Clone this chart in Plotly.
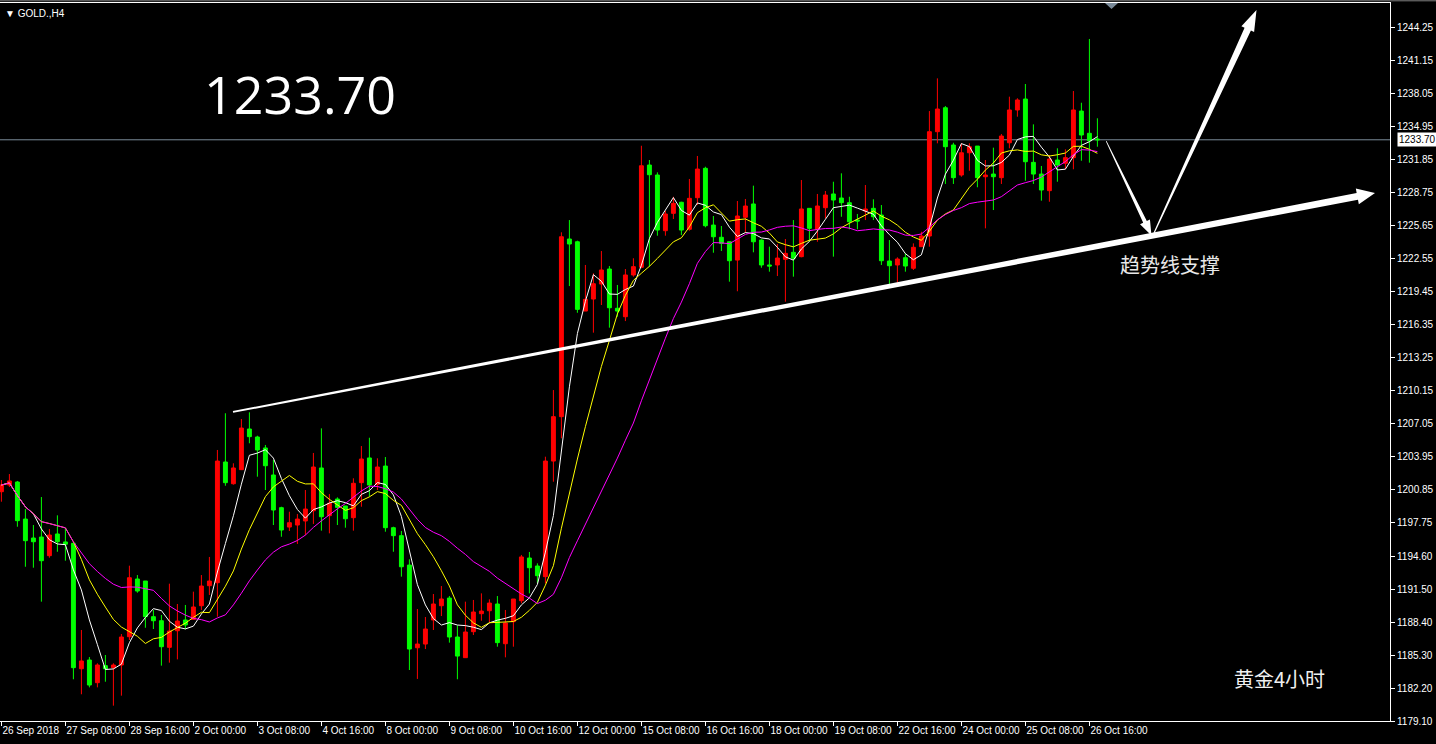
import plotly.graph_objects as go
import pandas as pd

# ---------------- data (GOLD H4, bar index 0 = 26 Sep 2018 00:00) ----------------
bar_index = list(range(138))
open_ = [1200.64, 1201.27, 1201.55, 1198.07, 1196.29, 1196.38, 1194.63, 1196.67, 1195.92, 1195.79,
         1184.01, 1184.83, 1182.70, 1184.30, 1184.11, 1184.36, 1187.02, 1192.44, 1192.25, 1188.90,
         1188.52, 1186.02, 1187.58, 1188.59, 1188.65, 1189.93, 1191.81, 1192.09, 1203.43, 1201.39,
         1202.71, 1206.53, 1205.78, 1204.75, 1202.21, 1199.14, 1197.32, 1197.51, 1197.89, 1198.85,
         1202.87, 1198.39, 1199.95, 1199.30, 1198.20, 1201.49, 1203.81, 1201.33, 1203.05, 1197.26,
         1196.51, 1193.75, 1185.98, 1186.33, 1188.59, 1189.93, 1190.65, 1186.99, 1185.05, 1187.49,
         1189.18, 1189.46, 1190.09, 1186.36, 1188.43, 1190.40, 1194.41, 1193.66, 1192.66, 1203.52,
         1207.69, 1224.38, 1224.12, 1217.61, 1218.74, 1220.15, 1221.56, 1217.87, 1217.08, 1221.00,
         1221.72, 1231.33, 1230.39, 1225.16, 1226.79, 1227.83, 1225.29, 1228.26, 1231.02, 1225.69,
         1224.54, 1224.12, 1222.40, 1226.42, 1227.67, 1224.28, 1221.94, 1221.94, 1222.47, 1223.13,
         1222.72, 1227.26, 1225.29, 1227.32, 1228.61, 1228.23, 1227.79, 1226.16, 1227.01, 1227.26,
         1226.63, 1222.31, 1221.94, 1222.62, 1221.63, 1223.66, 1224.66, 1234.46, 1236.71, 1233.21,
         1230.39, 1232.48, 1233.11, 1230.23, 1230.48, 1230.14, 1233.42, 1236.50, 1237.53, 1231.58,
         1230.48, 1228.92, 1231.80, 1231.49, 1232.02, 1236.40, 1234.31, 1233.77]
high = [1201.74, 1202.30, 1201.65, 1199.01, 1197.51, 1200.14, 1197.14, 1198.42, 1197.23, 1195.85,
        1187.65, 1185.11, 1184.52, 1185.30, 1184.52, 1187.27, 1193.69, 1192.81, 1192.25, 1189.53,
        1189.06, 1192.00, 1190.09, 1190.00, 1191.25, 1192.81, 1194.51, 1204.56, 1208.01, 1203.31,
        1207.47, 1208.10, 1205.90, 1205.03, 1203.62, 1199.23, 1198.76, 1198.54, 1200.80, 1204.28,
        1206.59, 1200.42, 1200.11, 1199.30, 1201.90, 1204.93, 1205.71, 1203.78, 1203.90, 1197.35,
        1196.95, 1194.29, 1189.62, 1188.87, 1191.03, 1191.78, 1190.84, 1188.09, 1190.31, 1190.47,
        1191.09, 1190.53, 1190.84, 1189.53, 1190.56, 1194.70, 1194.98, 1193.91, 1203.93, 1210.19,
        1225.01, 1226.16, 1224.22, 1221.94, 1221.16, 1223.25, 1221.84, 1220.06, 1221.56, 1222.57,
        1233.14, 1231.80, 1230.64, 1227.01, 1228.35, 1227.88, 1230.02, 1232.18, 1231.17, 1226.54,
        1225.60, 1224.12, 1227.95, 1228.14, 1229.39, 1224.35, 1223.66, 1223.91, 1224.38, 1226.16,
        1229.92, 1227.26, 1228.61, 1228.89, 1229.76, 1230.55, 1228.35, 1226.73, 1229.45, 1228.11,
        1227.57, 1224.28, 1222.66, 1223.03, 1223.97, 1225.06, 1236.40, 1239.47, 1236.87, 1233.42,
        1233.37, 1233.37, 1233.11, 1231.80, 1232.96, 1234.24, 1237.75, 1237.60, 1238.94, 1235.15,
        1231.24, 1232.27, 1232.90, 1232.80, 1238.28, 1237.18, 1243.17, 1235.72]
low = [1199.70, 1201.08, 1197.35, 1193.59, 1193.50, 1190.31, 1194.44, 1195.00, 1194.16, 1183.02,
       1181.61, 1182.26, 1182.26, 1182.79, 1180.54, 1181.48, 1186.71, 1191.15, 1187.86, 1187.74,
       1184.30, 1184.58, 1184.89, 1187.71, 1188.59, 1189.53, 1190.94, 1188.90, 1201.20, 1201.30,
       1202.68, 1205.19, 1202.05, 1200.80, 1197.51, 1196.41, 1196.95, 1195.73, 1196.57, 1197.61,
       1196.98, 1196.73, 1197.51, 1197.26, 1196.98, 1199.23, 1200.17, 1200.80, 1196.88, 1195.00,
       1192.66, 1183.89, 1183.05, 1185.86, 1187.65, 1188.96, 1186.46, 1183.02, 1185.05, 1187.18,
       1188.52, 1188.40, 1186.08, 1185.08, 1186.08, 1190.16, 1191.09, 1192.03, 1192.03, 1201.58,
       1205.66, 1219.96, 1217.45, 1217.61, 1215.58, 1218.18, 1216.05, 1217.08, 1216.67, 1220.84,
       1221.63, 1221.78, 1224.69, 1224.69, 1226.26, 1224.75, 1225.16, 1227.57, 1225.48, 1223.09,
       1223.25, 1220.37, 1219.47, 1224.97, 1223.13, 1221.68, 1221.31, 1220.90, 1218.49, 1220.84,
       1222.66, 1224.12, 1224.12, 1226.32, 1222.72, 1226.47, 1225.29, 1225.29, 1226.16, 1226.16,
       1221.94, 1220.15, 1220.27, 1221.31, 1221.47, 1223.66, 1223.66, 1233.37, 1229.55, 1229.55,
       1230.23, 1230.79, 1229.24, 1225.38, 1227.10, 1229.55, 1232.90, 1235.87, 1229.85, 1229.55,
       1227.98, 1227.88, 1229.76, 1230.93, 1230.93, 1231.73, 1231.55, 1233.05]
close = [1201.27, 1201.65, 1197.92, 1196.04, 1195.94, 1194.16, 1196.57, 1195.94, 1195.70, 1184.11,
         1184.74, 1182.48, 1184.36, 1184.01, 1184.36, 1186.99, 1192.56, 1191.31, 1188.90, 1188.52,
         1186.08, 1187.55, 1188.49, 1188.12, 1189.81, 1191.78, 1192.25, 1203.52, 1201.49, 1202.87,
         1206.62, 1205.81, 1204.56, 1203.08, 1198.92, 1197.04, 1197.73, 1198.07, 1199.01, 1202.96,
         1198.29, 1199.55, 1199.17, 1198.10, 1201.43, 1203.71, 1201.27, 1202.96, 1197.26, 1196.51,
         1193.59, 1185.86, 1186.33, 1187.74, 1190.09, 1190.56, 1186.99, 1185.20, 1187.46, 1189.34,
         1189.43, 1190.18, 1186.46, 1188.31, 1190.56, 1194.51, 1193.50, 1192.75, 1203.52, 1207.69,
         1224.59, 1223.91, 1217.77, 1218.71, 1220.18, 1221.47, 1217.92, 1217.61, 1221.00, 1221.78,
         1231.26, 1230.42, 1225.22, 1226.73, 1227.73, 1225.22, 1228.20, 1230.95, 1225.63, 1224.59,
         1223.97, 1222.34, 1226.54, 1227.48, 1224.12, 1221.94, 1221.84, 1222.59, 1223.03, 1222.57,
         1227.20, 1225.38, 1227.48, 1228.51, 1228.04, 1227.79, 1226.00, 1226.07, 1227.20, 1226.47,
         1222.34, 1221.87, 1222.50, 1221.84, 1223.60, 1224.66, 1234.46, 1236.59, 1233.05, 1230.14,
         1232.48, 1233.05, 1230.14, 1230.39, 1230.23, 1234.05, 1236.50, 1237.44, 1231.64, 1230.48,
         1228.98, 1231.89, 1231.33, 1232.02, 1236.50, 1234.15, 1233.61, 1233.70]

x_tick_index = [0, 8, 16, 24, 32, 40, 48, 56, 64, 72, 80, 88, 96, 104, 112, 120, 128, 136]
x_tick_labels = ["26 Sep 2018", "27 Sep 08:00", "28 Sep 16:00", "2 Oct 00:00", "3 Oct 08:00",
                 "4 Oct 16:00", "8 Oct 00:00", "9 Oct 08:00", "10 Oct 16:00", "12 Oct 00:00",
                 "15 Oct 08:00", "16 Oct 16:00", "18 Oct 00:00", "19 Oct 08:00", "22 Oct 16:00",
                 "24 Oct 00:00", "25 Oct 08:00", "26 Oct 16:00"]
y_tick_values = [1244.25, 1241.15, 1238.05, 1234.95, 1231.85, 1228.75, 1225.65, 1222.55, 1219.45,
                 1216.35, 1213.25, 1210.15, 1207.05, 1203.95, 1200.85, 1197.75, 1194.60, 1191.50,
                 1188.40, 1185.30, 1182.20, 1179.10]
current_price = 1233.70
ma_periods = [5, 10, 20]
ma_colors = ["#FFFFFF", "#FFFF00", "#FF00FF"]

# ---------------- geometry ----------------
FIG_W, FIG_H = 1436, 744
M_L, M_R, M_T, M_B = 0, 46, 3, 23
PW, PH = FIG_W - M_L - M_R, FIG_H - M_T - M_B
X0, X1 = -0.175, 173.575
Y0, Y1 = 1179.10, 1246.55


def to_px(x, y):
    return ((x - X0) / (X1 - X0) * PW, (Y1 - y) / (Y1 - Y0) * PH)


def to_data(px, py):
    return (X0 + px / PW * (X1 - X0), Y1 - py / PH * (Y1 - Y0))


def arrow_path(start, tip, w0, w1, head_len, head_w):
    sx, sy = to_px(*start)
    tx, ty = to_px(*tip)
    dx, dy = tx - sx, ty - sy
    L = (dx * dx + dy * dy) ** 0.5
    ux, uy = dx / L, dy / L
    nx, ny = -uy, ux
    bx, by = tx - ux * head_len, ty - uy * head_len
    pts = [(sx + nx * w0 / 2, sy + ny * w0 / 2),
           (bx + nx * w1 / 2, by + ny * w1 / 2),
           (bx + nx * head_w / 2, by + ny * head_w / 2),
           (tx, ty),
           (bx - nx * head_w / 2, by - ny * head_w / 2),
           (bx - nx * w1 / 2, by - ny * w1 / 2),
           (sx - nx * w0 / 2, sy - ny * w0 / 2)]
    d = [to_data(px, py) for px, py in pts]
    return "M " + " L ".join(f"{x:.4f},{y:.4f}" for x, y in d) + " Z"


fig = go.Figure()
fig.add_trace(go.Candlestick(
    x=bar_index, open=open_, high=high, low=low, close=close,
    increasing=dict(line=dict(color="#FF0000", width=1), fillcolor="#FF0000"),
    decreasing=dict(line=dict(color="#00FF00", width=1), fillcolor="#00FF00"),
    whiskerwidth=0, hoverinfo="skip", showlegend=False))

cs = pd.Series(close)
for p, c in zip(ma_periods, ma_colors):
    ma = cs.rolling(p, min_periods=1).mean()
    fig.add_trace(go.Scatter(x=bar_index, y=ma, mode="lines",
                             line=dict(color=c, width=1), hoverinfo="skip", showlegend=False))

shapes = []
# current price line
shapes.append(dict(type="line", xref="paper", x0=0, x1=1, yref="y", y0=current_price, y1=current_price,
                   line=dict(color="#7a8a99", width=1), layer="below"))
# trend line arrow and the two direction arrows (drawn objects)
shapes.append(dict(type="path", xref="x", yref="y", fillcolor="white", line=dict(width=0),
                   path=arrow_path((28.95, 1208.13), (171.7, 1228.70), 1.8, 7, 18, 16)))
shapes.append(dict(type="path", xref="x", yref="y", fillcolor="white", line=dict(width=0),
                   path=arrow_path((138.1, 1233.58), (143.76, 1224.71), 0.8, 4, 15, 11)))
shapes.append(dict(type="path", xref="x", yref="y", fillcolor="white", line=dict(width=0),
                   path=arrow_path((144.08, 1224.94), (156.89, 1245.89), 1.2, 7, 21, 14)))
# chart shift marker at the top
shapes.append(dict(type="path", xref="paper", yref="paper", fillcolor="#7a8a99", line=dict(width=0),
                   path=f"M {1105/PW},{1.0} L {1118/PW},{1.0} L {1111.5/PW},{1-6/PH} Z"))
# window top border
shapes.append(dict(type="line", xref="paper", yref="paper", x0=0, x1=(FIG_W) / PW,
                   y0=1 + 2.2 / PH, y1=1 + 2.2 / PH, line=dict(color="#808080", width=1)))

annotations = [
    dict(text="1233.70", xref="paper", yref="paper", x=300 / PW, y=1 - (93 - M_T) / PH,
         xanchor="center", yanchor="middle",
         showarrow=False, font=dict(family="Open Sans", size=52, color="white")),
    dict(text="▼ GOLD.,H4", xref="paper", yref="paper", x=3 / PW, y=1 - (13 - M_T) / PH,
         xanchor="left", yanchor="middle", showarrow=False,
         font=dict(family="Liberation Sans", size=10, color="white")),
    dict(text="趋势线支撑", xref="x", yref="y", x=146.1, y=1221.94, showarrow=False,
         xanchor="center", yanchor="middle",
         font=dict(family="Noto Sans CJK SC", size=20, color="#e8e8e8")),
    dict(text="黄金4小时", xref="paper", yref="paper", x=1279 / PW, y=1 - (678 - M_T) / PH,
         xanchor="center", yanchor="middle",
         showarrow=False, font=dict(family="Noto Sans CJK SC", size=20, color="#f0f0f0")),
    dict(text="1233.70", xref="paper", yref="y", x=1, y=current_price, xanchor="left", xshift=7,
         yanchor="middle", showarrow=False, bgcolor="white", borderpad=1,
         font=dict(family="Liberation Sans", size=10, color="black")),
]

fig.update_layout(
    width=FIG_W, height=FIG_H, autosize=False,
    paper_bgcolor="black", plot_bgcolor="black",
    margin=dict(l=M_L, r=M_R, t=M_T, b=M_B, pad=0, autoexpand=False),
    showlegend=False, hovermode=False,
    shapes=shapes, annotations=annotations,
    xaxis=dict(range=[X0, X1], showgrid=False, zeroline=False, showline=True, linecolor="white",
               linewidth=1, mirror=True, ticks="outside", ticklen=4, tickcolor="white",
               tickvals=x_tick_index, ticktext=x_tick_labels, ticklabelposition="outside right",
               tickangle=0, automargin=False,
               tickfont=dict(family="Liberation Sans", size=10, color="white"),
               rangeslider=dict(visible=False), fixedrange=True),
    yaxis=dict(range=[Y0, Y1], side="right", showgrid=False, zeroline=False, showline=True,
               linecolor="white", linewidth=1, mirror=True, ticks="outside", ticklen=4,
               tickcolor="white", tickvals=y_tick_values, automargin=False,
               ticktext=[f"{v:.2f}" for v in y_tick_values],
               tickfont=dict(family="Liberation Sans", size=10, color="white"), fixedrange=True),
)

fig.write_html(
    "out.html",
    config={"displayModeBar": False, "staticPlot": True},
    post_script="document.body.style.margin='0';document.body.style.background='black';"
                "document.body.style.overflow='hidden';",
)
